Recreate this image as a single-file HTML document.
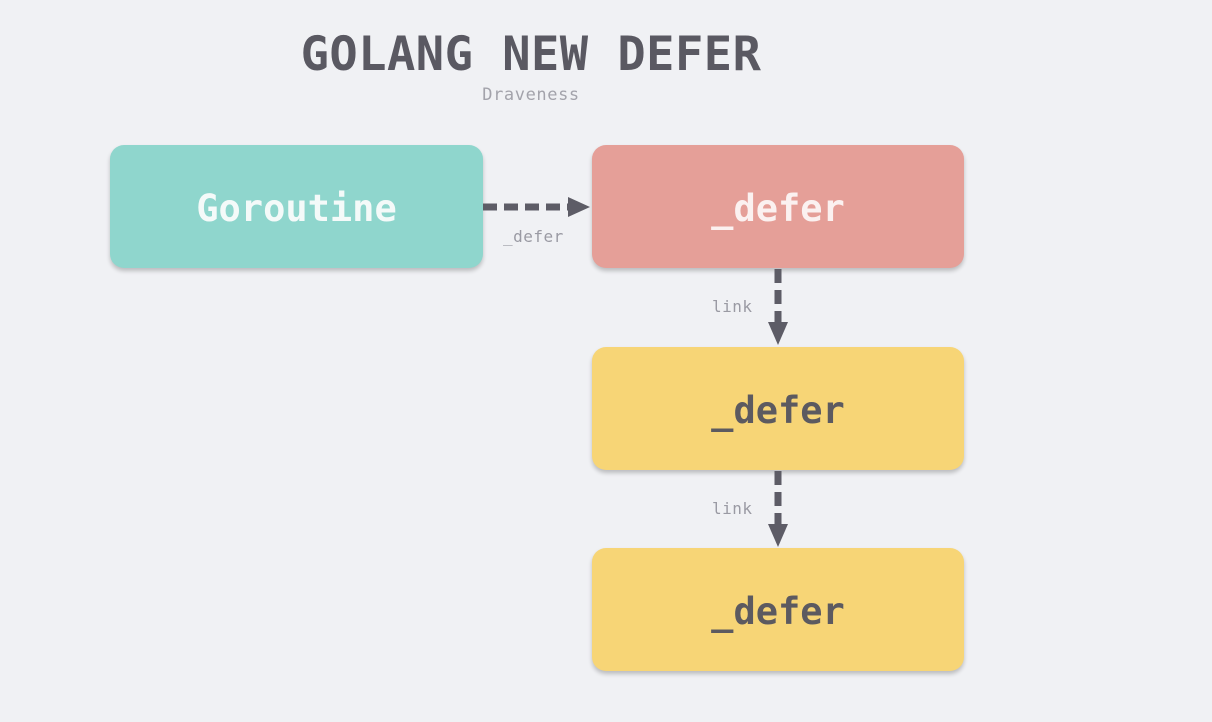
<!DOCTYPE html>
<html><head><meta charset="utf-8"><style>
html,body{margin:0;padding:0;}
body{width:1212px;height:722px;background:#f0f1f4;position:relative;overflow:hidden;font-family:"DejaVu Sans Mono","Liberation Mono",monospace;}
.t{position:absolute;left:0;width:1062px;text-align:center;color:#5a5962;}
.box{position:absolute;border-radius:14px;box-shadow:0 3px 4px rgba(0,0,0,0.22);display:flex;align-items:center;justify-content:center;font-size:37px;font-weight:bold;padding-top:3px;box-sizing:border-box;}
.lbl{position:absolute;font-size:16px;color:#9a9aa3;letter-spacing:0.5px;}
</style></head><body>
<div class="t" style="top:27px;font-size:47px;font-weight:bold;letter-spacing:0.5px;">GOLANG NEW DEFER</div>
<div class="t" style="top:85px;font-size:17px;color:#a3a3ab;letter-spacing:0.6px;">Draveness</div>

<div class="box" style="left:110px;top:145px;width:373px;height:123px;background:#8fd6cd;color:#f4faf9;">Goroutine</div>
<div class="box" style="left:592px;top:145px;width:372px;height:123px;background:#e59f98;color:#fbf1f0;">_defer</div>
<div class="box" style="left:592px;top:347px;width:372px;height:123px;background:#f7d576;color:#5c5a60;">_defer</div>
<div class="box" style="left:592px;top:548px;width:372px;height:123px;background:#f7d576;color:#5c5a60;">_defer</div>

<svg width="1212" height="722" style="position:absolute;left:0;top:0">
<g stroke="#5d5c66" stroke-width="7" stroke-dasharray="14 7" fill="none">
<line x1="483" y1="207" x2="570" y2="207"/>
<line x1="778" y1="269" x2="778" y2="324"/>
<line x1="778" y1="471" x2="778" y2="526"/>
</g>
<g fill="#5d5c66">
<polygon points="568,197 590,207 568,217"/>
<polygon points="768,322 778,345 788,322"/>
<polygon points="768,524 778,547 788,524"/>
</g>
</svg>
<div class="lbl" style="left:503px;top:227px;">_defer</div>
<div class="lbl" style="left:712px;top:297px;">link</div>
<div class="lbl" style="left:712px;top:499px;">link</div>
</body></html>
